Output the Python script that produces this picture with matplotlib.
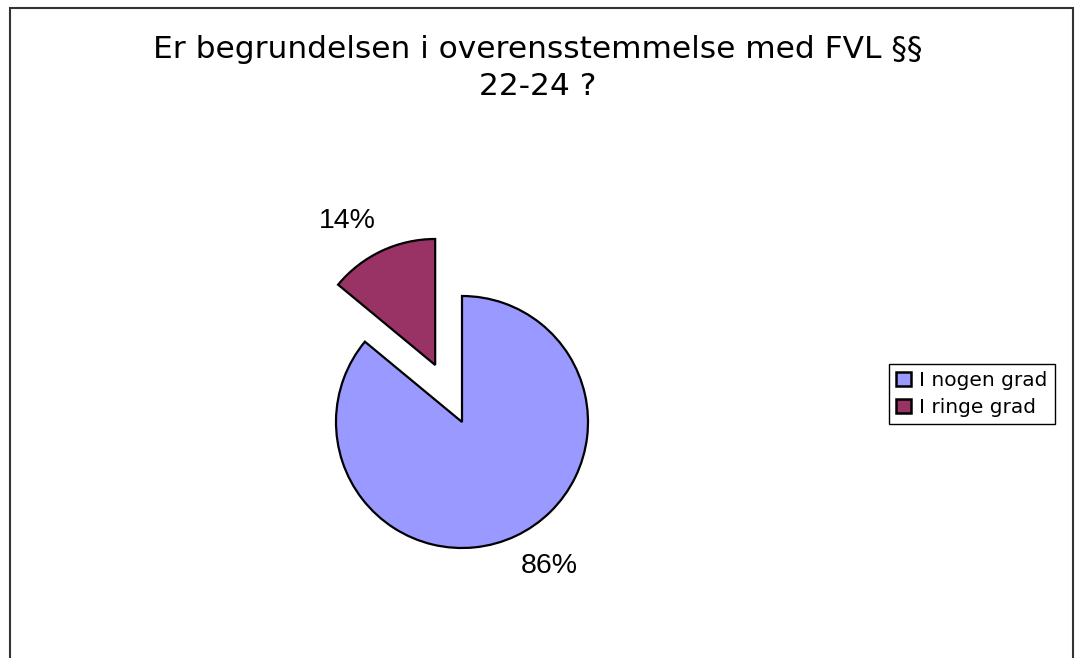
import numpy as np
import matplotlib.pyplot as plt
from matplotlib.patches import Rectangle

# data
title = "Er begrundelsen i overensstemmelse med FVL §§\n22-24 ?"
categories = ["I nogen grad", "I ringe grad"]
shares = [86, 14]
colours = ["#9999FF", "#993366"]

W, H = 1075, 658
fig = plt.figure(figsize=(W / 100, H / 100), dpi=100)
ax = fig.add_axes([0, 0, 1, 1])
ax.set_xlim(0, W)
ax.set_ylim(0, H)
ax.set_aspect("equal")
ax.axis("off")

r = 126
# matplotlib's explode is in data units, so scale by radius
wedges, texts, autotexts = ax.pie(
    shares, colors=colours, explode=[0, 0.5 * r], startangle=90, counterclock=False,
    center=(462, H - 422), radius=r,
    autopct=lambda p: "%.0f%%" % p, pctdistance=1.35,
    wedgeprops=dict(edgecolor="black", linewidth=1.6),
    textprops=dict(family="Liberation Sans", fontsize=20.5, color="black"),
)
# labels sit a few degrees counter-clockwise of the wedge middle
for w, t in zip(wedges, autotexts):
    a = np.deg2rad((w.theta1 + w.theta2) / 2 + 6)
    cx, cy = w.center
    t.set_position((cx + 1.34 * r * np.cos(a), cy + 1.34 * r * np.sin(a)))
ax.set_xlim(0, W)
ax.set_ylim(0, H)

fig.text(0.5, 1 - 68 / H, title, ha="center", va="center", fontsize=22.5,
         family="DejaVu Sans", linespacing=1.35)

leg = fig.legend(wedges, categories, loc="upper left",
                 bbox_to_anchor=(889 / W, 1 - 364 / H), borderaxespad=0,
                 fancybox=False, edgecolor="black", framealpha=1,
                 prop=dict(family="DejaVu Sans", size=14.5),
                 handlelength=0.75, handleheight=0.75, handletextpad=0.4,
                 borderpad=0.35, labelspacing=0.4)
leg.get_frame().set_linewidth(1.0)
for h in leg.legend_handles:
    h.set_edgecolor("black")
    h.set_linewidth(1.8)

# outer chart border
fig.patches.append(Rectangle((10 / W, -0.05), 1063 / W, 1 - 8 / H + 0.05,
                             transform=fig.transFigure, fill=False,
                             edgecolor="#333333", linewidth=1.5))

fig.savefig("out.png", dpi=100)
